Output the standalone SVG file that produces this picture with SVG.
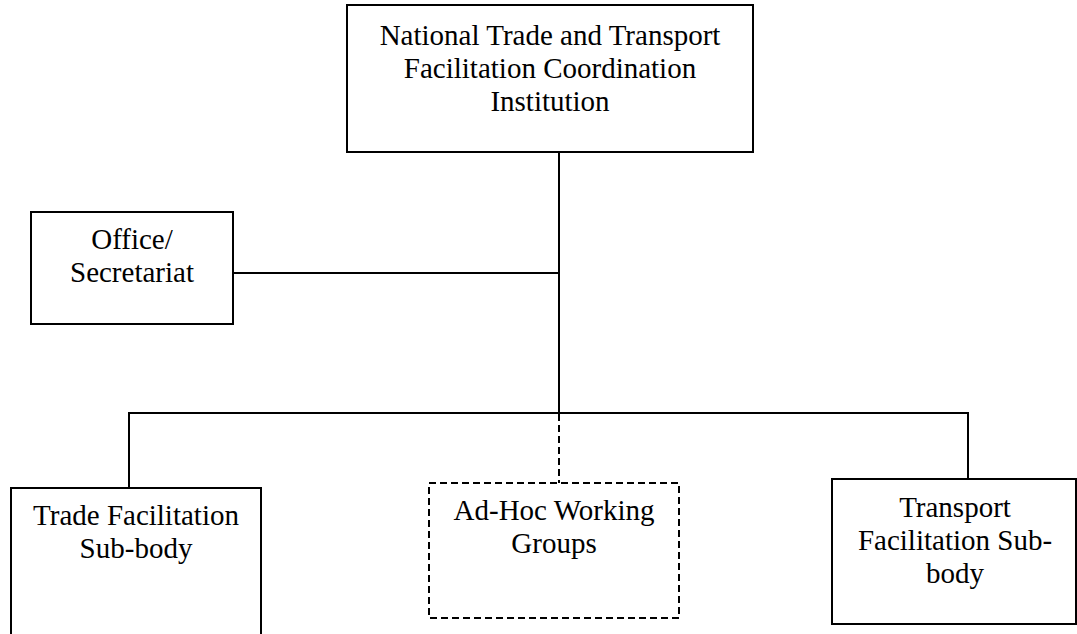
<svg xmlns="http://www.w3.org/2000/svg" width="1077" height="634" viewBox="0 0 1077 634">
<style>
.box{fill:#fff;stroke:#000;stroke-width:2}
.dash{fill:#fff;stroke:#000;stroke-width:2;stroke-dasharray:7 4}
.ln{fill:none;stroke:#000;stroke-width:2}
.dl{fill:none;stroke:#000;stroke-width:2;stroke-dasharray:7 4}
text{font-family:"Liberation Serif","Times New Roman",serif;font-size:29px;fill:#000;text-anchor:middle}
</style>
<rect width="1077" height="634" fill="#fff"/>
<g id="connectors">
<line class="ln" x1="559" y1="152" x2="559" y2="414"/>
<line class="ln" x1="233" y1="273" x2="559" y2="273"/>
<polyline class="ln" points="129,488 129,413 968,413 968,479"/>
<line class="dl" x1="559" y1="414" x2="559" y2="483"/>
</g>
<g id="national">
<rect class="box" x="347" y="5" width="406" height="147"/>
<text x="550" y="45">National Trade and Transport</text>
<text x="550" y="78">Facilitation Coordination</text>
<text x="550" y="111">Institution</text>
</g>
<g id="office">
<rect class="box" x="31" y="212" width="202" height="112"/>
<text x="132" y="249">Office/</text>
<text x="132" y="282">Secretariat</text>
</g>
<g id="trade">
<rect class="box" x="11" y="488" width="250" height="150"/>
<text x="136" y="525">Trade Facilitation</text>
<text x="136" y="558">Sub-body</text>
</g>
<g id="adhoc">
<rect class="dash" x="429" y="483" width="250" height="135"/>
<text x="554" y="520">Ad-Hoc Working</text>
<text x="554" y="553">Groups</text>
</g>
<g id="transport">
<rect class="box" x="832" y="479" width="244" height="145"/>
<text x="955" y="517">Transport</text>
<text x="955" y="550">Facilitation Sub-</text>
<text x="955" y="583">body</text>
</g>
</svg>
